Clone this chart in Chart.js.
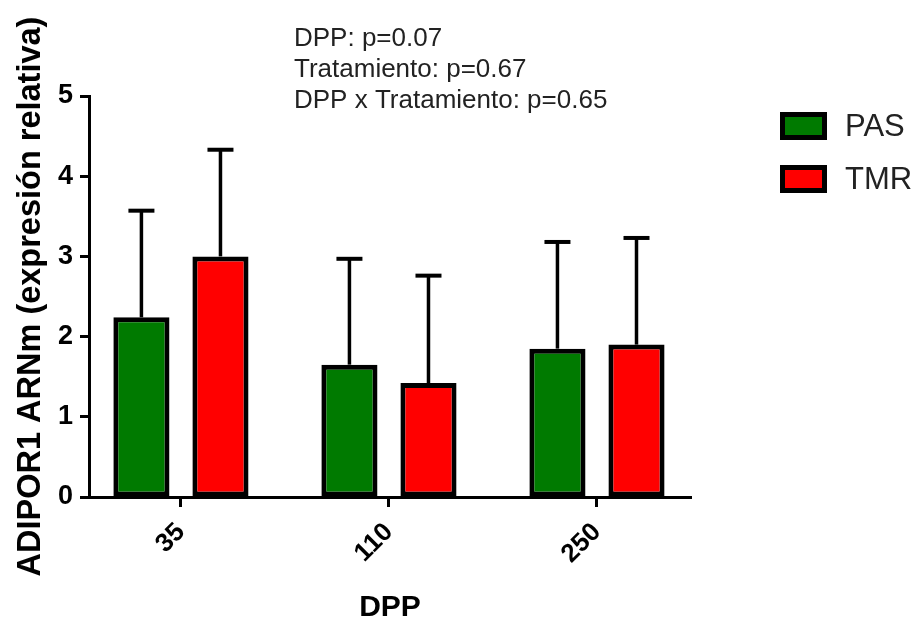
<!DOCTYPE html>
<html>
<head>
<meta charset="utf-8">
<script src="https://cdn.jsdelivr.net/npm/chart.js@4"></script>
<style>
    html, body { margin: 0; padding: 0; background: #fff; }
</style>
</head>
<body>
<canvas id="chart" width="916" height="620"></canvas>
<script>
const categories = ['35', '110', '250'];
const seriesNames = ['PAS', 'TMR'];
const pasValues = [2.24, 1.65, 1.85];
const tmrValues = [3.00, 1.42, 1.90];
const pasErrors = [1.33, 1.32, 1.33];
const tmrErrors = [1.33, 1.34, 1.33];
const statsLines = ['DPP: p=0.07', 'Tratamiento: p=0.67', 'DPP x Tratamiento: p=0.65'];

const FONT = "'Liberation Sans', Arial, sans-serif";

// bars sit at x = 1, 2, 3 on a linear axis so the group gaps match the original
function toPoints(values) {
    return values.map((v, i) => ({ x: i + 1, y: v }));
}

const errorBars = {
    id: 'errorBars',
    afterDatasetsDraw(chart) {
        const ctx = chart.ctx;
        const yScale = chart.scales.y;
        ctx.save();
        ctx.strokeStyle = '#000';
        chart.data.datasets.forEach((ds, di) => {
            const meta = chart.getDatasetMeta(di);
            meta.data.forEach((bar, i) => {
                const top = yScale.getPixelForValue(ds.data[i].y + ds.errors[i]);
                ctx.lineWidth = 3.5;
                ctx.beginPath();
                ctx.moveTo(bar.x, bar.y);
                ctx.lineTo(bar.x, top);
                ctx.stroke();
                ctx.lineWidth = 4;
                ctx.beginPath();
                ctx.moveTo(bar.x - 13, top);
                ctx.lineTo(bar.x + 13, top);
                ctx.stroke();
            });
        });
        ctx.restore();
    }
};

const extras = {
    id: 'extras',
    afterDraw(chart) {
        const ctx = chart.ctx;
        ctx.save();
        // stats text
        ctx.fillStyle = '#222';
        ctx.font = '26px ' + FONT;
        ctx.textBaseline = 'alphabetic';
        statsLines.forEach((line, i) => {
            ctx.fillText(line, 294, 46 + i * 31);
        });
        // legend
        ctx.textBaseline = 'middle';
        ctx.font = '31px ' + FONT;
        chart.data.datasets.forEach((ds, i) => {
            const y = 112 + i * 53;
            ctx.fillStyle = '#000';
            ctx.fillRect(780, y, 47, 28);
            ctx.fillStyle = ds.backgroundColor;
            ctx.fillRect(785, y + 5, 37, 18);
            ctx.fillStyle = '#222';
            ctx.fillText(ds.label, 845, y + 15);
        });
        ctx.restore();
    }
};

new Chart(document.getElementById('chart'), {
    type: 'bar',
    data: {
        datasets: [
            {
                label: seriesNames[0],
                data: toPoints(pasValues),
                errors: pasErrors,
                backgroundColor: '#007a00',
                borderColor: '#000',
                borderWidth: 5,
                borderSkipped: false
            },
            {
                label: seriesNames[1],
                data: toPoints(tmrValues),
                errors: tmrErrors,
                backgroundColor: '#ff0000',
                borderColor: '#000',
                borderWidth: 5,
                borderSkipped: false
            }
        ]
    },
    options: {
        responsive: false,
        animation: false,
        devicePixelRatio: 1,
        categoryPercentage: 0.76,
        barPercentage: 0.71,
        layout: { padding: { top: 96, right: 225, left: 0, bottom: 0 } },
        plugins: {
            legend: { display: false },
            tooltip: { enabled: false }
        },
        scales: {
            x: {
                type: 'linear',
                min: 0.558,
                max: 3.452,
                offset: false,
                afterFit(scale) { scale.height = 123; },
                afterBuildTicks(scale) {
                    scale.ticks = categories.map((c, i) => ({ value: i + 1 }));
                },
                grid: {
                    offset: false,
                    drawOnChartArea: false,
                    drawTicks: true,
                    tickLength: 10,
                    tickWidth: 3,
                    tickColor: '#000'
                },
                border: { display: true, color: '#000', width: 3 },
                ticks: {
                    color: '#000',
                    font: { family: FONT, size: 26, weight: 'bold' },
                    minRotation: 45,
                    maxRotation: 45,
                    padding: 10,
                    callback: (v) => categories[v - 1]
                },
                title: {
                    display: true,
                    text: 'DPP',
                    color: '#000',
                    font: { family: FONT, size: 30, weight: 'bold', lineHeight: 1 },
                    padding: { top: 0, bottom: -3 }
                }
            },
            y: {
                min: 0,
                max: 5,
                afterFit(scale) { scale.width = 89; },
                grid: {
                    drawOnChartArea: false,
                    drawTicks: true,
                    tickLength: 9,
                    tickWidth: 3,
                    tickColor: '#000'
                },
                border: { display: true, color: '#000', width: 3 },
                ticks: {
                    stepSize: 1,
                    color: '#000',
                    font: { family: FONT, size: 27, weight: 'bold' },
                    padding: 7
                },
                title: {
                    display: true,
                    text: 'ADIPOR1 ARNm (expresión relativa)',
                    color: '#000',
                    font: { family: FONT, size: 32.5, weight: 'bold' },
                    padding: { top: 12, bottom: 0 }
                }
            }
        }
    },
    plugins: [errorBars, extras]
});
</script>
</body>
</html>
